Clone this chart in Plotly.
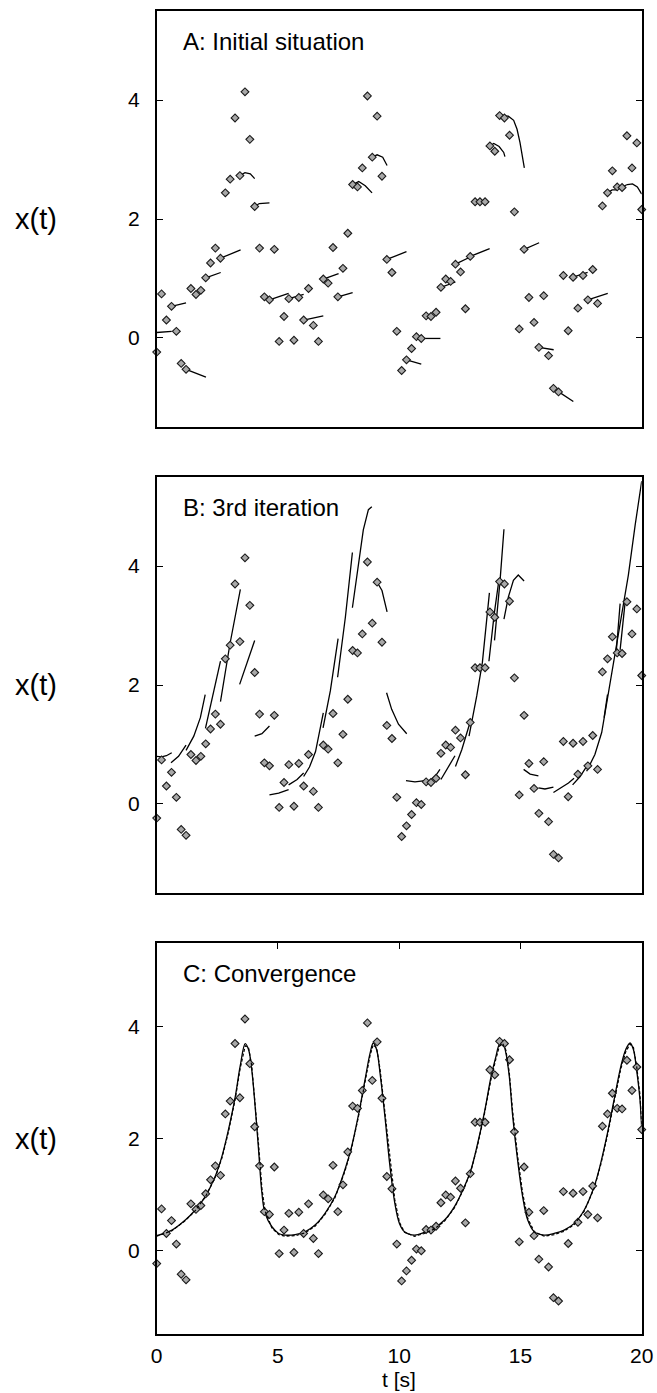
import plotly.graph_objects as go

# ---------------- data ----------------
t_obs = [0.00, 0.20, 0.40, 0.61, 0.81, 1.01, 1.21, 1.41, 1.62, 1.82,
         2.02, 2.22, 2.42, 2.63, 2.83, 3.03, 3.23, 3.43, 3.64, 3.84,
         4.04, 4.24, 4.44, 4.65, 4.85, 5.05, 5.25, 5.45, 5.66, 5.86,
         6.06, 6.26, 6.46, 6.67, 6.87, 7.07, 7.27, 7.47, 7.68, 7.88,
         8.08, 8.28, 8.48, 8.69, 8.89, 9.09, 9.29, 9.49, 9.70, 9.90,
         10.10, 10.30, 10.51, 10.71, 10.91, 11.11, 11.31, 11.52, 11.72, 11.92,
         12.12, 12.32, 12.53, 12.73, 12.93, 13.13, 13.33, 13.54, 13.74, 13.94,
         14.14, 14.34, 14.55, 14.75, 14.95, 15.15, 15.35, 15.56, 15.76, 15.96,
         16.16, 16.36, 16.57, 16.77, 16.97, 17.17, 17.37, 17.58, 17.78, 17.98,
         18.18, 18.38, 18.59, 18.79, 18.99, 19.19, 19.39, 19.60, 19.80, 20.00]
x_obs = [-0.24, 0.74, 0.30, 0.53, 0.11, -0.43, -0.53, 0.83, 0.73, 0.80,
         1.01, 1.26, 1.51, 1.34, 2.44, 2.67, 3.70, 2.73, 4.14, 3.34,
         2.21, 1.51, 0.69, 0.64, 1.49, -0.06, 0.36, 0.66, -0.04, 0.68,
         0.30, 0.83, 0.21, -0.06, 0.99, 0.92, 1.52, 0.69, 1.17, 1.76,
         2.58, 2.54, 2.86, 4.07, 3.04, 3.73, 2.72, 1.32, 1.10, 0.11,
         -0.55, -0.37, -0.18, 0.02, -0.01, 0.37, 0.36, 0.43, 0.85, 0.99,
         0.95, 1.24, 1.11, 0.49, 1.37, 2.29, 2.29, 2.29, 3.23, 3.14,
         3.74, 3.70, 3.41, 2.12, 0.15, 1.49, 0.68, 0.26, -0.16, 0.71,
         -0.30, -0.85, -0.91, 1.05, 0.12, 1.02, 0.50, 1.05, 0.64, 1.15,
         0.58, 2.22, 2.44, 2.81, 2.54, 2.53, 3.40, 2.86, 3.28, 2.16]

# Panel A: initial trajectory pieces
seg_a_t = [[0.0, 0.62], [0.61, 0.9, 1.21], [1.21, 1.6, 2.03], [2.02, 2.33, 2.64],
           [2.63, 3.04, 3.46], [3.43, 3.64, 3.86, 4.04], [4.04, 4.23, 4.65],
           [4.65, 5.05, 5.44], [5.45, 5.75, 6.06], [6.06, 6.46, 6.87],
           [6.87, 7.18, 7.5], [7.47, 7.78, 8.08], [8.08, 8.33, 8.6, 8.88],
           [8.89, 9.09, 9.32, 9.5], [9.49, 9.9, 10.3], [10.3, 10.6, 10.91],
           [10.91, 11.3, 11.7], [11.72, 12.02, 12.32], [12.32, 12.62, 12.93],
           [12.93, 13.33, 13.73], [13.74, 13.9, 14.12, 14.31, 14.36],
           [14.14, 14.5, 14.72, 14.86, 14.98, 15.08, 15.16],
           [15.15, 15.46, 15.77], [15.76, 16.06, 16.37], [16.36, 16.75, 17.18],
           [17.17, 17.47, 17.77], [17.78, 18.19, 18.6], [18.59, 18.78, 19.0],
           [19.19, 19.41, 19.62, 19.82, 20.0]]
seg_a_x = [[0.09, 0.11], [0.53, 0.56, 0.59], [-0.53, -0.59, -0.66], [1.01, 1.06, 1.10],
           [1.34, 1.41, 1.48], [2.73, 2.78, 2.76, 2.68], [2.21, 2.26, 2.27],
           [0.64, 0.70, 0.75], [0.66, 0.70, 0.73], [0.30, 0.34, 0.37],
           [0.99, 1.04, 1.08], [0.69, 0.73, 0.76], [2.58, 2.63, 2.56, 2.44],
           [3.04, 3.08, 3.04, 2.90], [1.32, 1.39, 1.45], [-0.37, -0.41, -0.44],
           [-0.01, -0.01, -0.01], [0.85, 0.90, 0.94], [1.24, 1.30, 1.36],
           [1.37, 1.44, 1.50], [3.23, 3.27, 3.22, 3.12, 3.05],
           [3.74, 3.73, 3.66, 3.51, 3.29, 3.06, 2.86],
           [1.49, 1.55, 1.60], [-0.16, -0.18, -0.20], [-0.85, -0.95, -1.07],
           [1.02, 1.06, 1.10], [0.64, 0.70, 0.75], [2.44, 2.49, 2.49],
           [2.54, 2.58, 2.59, 2.54, 2.42]]

# Panel B: 3rd iteration pieces
seg_b_t = [[0.0, 0.2, 0.4, 0.62], [0.59, 0.9, 1.21], [1.21, 1.53, 1.8, 2.0],
           [2.01, 2.31, 2.63], [2.63, 3.02, 3.45], [3.42, 3.73, 4.04],
           [4.04, 4.34, 4.65], [4.65, 5.03, 5.44], [5.44, 5.79, 6.06],
           [6.06, 6.3, 6.55, 6.87], [6.86, 7.16, 7.48], [7.46, 7.78, 8.07],
           [8.07, 8.32, 8.52, 8.73, 8.87], [9.06, 9.29, 9.5],
           [9.48, 9.69, 9.97, 10.31], [10.28, 10.65, 11.07], [11.24, 11.48, 11.68],
           [11.72, 12.03, 12.3], [12.32, 12.58, 12.92], [12.88, 13.2, 13.43, 13.72],
           [13.7, 13.92, 14.12], [13.93, 14.16, 14.32],
           [14.32, 14.5, 14.71, 14.91, 15.15], [15.13, 15.4, 15.74],
           [15.74, 16.01, 16.36], [16.36, 16.7, 16.98, 17.21], [17.15, 17.46, 17.73],
           [17.73, 18.07, 18.35, 18.63, 18.9, 19.18, 19.45, 19.73, 20.0],
           [18.45, 18.59], [18.94, 19.11], [19.11, 19.31]]
seg_b_x = [[0.80, 0.79, 0.81, 0.86], [0.69, 0.80, 0.99], [0.90, 1.14, 1.45, 1.84],
           [1.27, 1.80, 2.40], [1.72, 2.69, 3.61], [2.01, 2.38, 2.75],
           [1.14, 1.18, 1.31], [0.15, 0.18, 0.24], [0.32, 0.41, 0.52],
           [0.46, 0.62, 0.88, 1.53], [1.28, 1.90, 2.78], [2.13, 3.14, 4.23],
           [3.30, 3.99, 4.61, 4.95, 5.00], [3.75, 3.59, 3.23],
           [1.87, 1.59, 1.34, 1.18], [0.39, 0.37, 0.39], [0.39, 0.46, 0.58],
           [0.41, 0.63, 0.81], [0.63, 0.91, 1.37], [1.14, 1.82, 2.38, 3.55],
           [2.40, 3.20, 3.79], [2.75, 3.76, 4.62],
           [3.11, 3.48, 3.76, 3.85, 3.75], [0.58, 0.50, 0.47],
           [0.27, 0.25, 0.28], [0.19, 0.27, 0.35, 0.43], [0.32, 0.46, 0.63],
           [0.55, 0.83, 1.20, 1.87, 2.49, 3.17, 3.85, 4.69, 5.43],
           [1.45, 1.84], [2.51, 3.37], [2.59, 3.37]]

# Panel C: converged trajectory (solid) and true trajectory (dashed)
t_fit = [0.0, 0.63, 1.18, 1.59, 2.0, 2.41, 2.69, 2.96, 3.24, 3.44, 3.65, 3.79, 3.92,
         4.06, 4.2, 4.34, 4.47, 4.75, 5.03, 5.3, 5.71, 6.12, 6.53, 6.94, 7.35, 7.76,
         8.04, 8.31, 8.59, 8.8, 8.93, 9.07, 9.21, 9.41, 9.62, 9.82, 10.01, 10.22,
         10.63, 11.04, 11.45, 11.87, 12.28, 12.69, 12.96, 13.24, 13.51, 13.79, 13.99,
         14.13, 14.27, 14.4, 14.54, 14.68, 14.88, 15.09, 15.3, 15.57, 15.98, 16.39,
         16.8, 17.22, 17.63, 18.04, 18.31, 18.59, 18.86, 19.14, 19.34, 19.52, 19.66,
         19.79, 19.93, 20.0]
x_fit = [0.26, 0.36, 0.54, 0.72, 0.96, 1.32, 1.68, 2.16, 2.75, 3.29, 3.70, 3.59, 3.23,
         2.57, 1.80, 1.02, 0.66, 0.42, 0.30, 0.27, 0.28, 0.33, 0.45, 0.66, 0.96, 1.44,
         1.86, 2.40, 3.05, 3.53, 3.71, 3.59, 3.17, 2.40, 1.50, 0.84, 0.48, 0.33,
         0.27, 0.32, 0.40, 0.54, 0.78, 1.14, 1.44, 1.92, 2.46, 3.11, 3.47,
         3.68, 3.71, 3.53, 3.11, 2.40, 1.62, 0.96, 0.54, 0.33, 0.27, 0.30,
         0.36, 0.48, 0.72, 1.14, 1.56, 2.10, 2.69, 3.29, 3.59, 3.71, 3.59,
         3.23, 2.69, 2.16]
x_true = [0.25, 0.35, 0.53, 0.71, 0.95, 1.30, 1.65, 2.12, 2.71, 3.25, 3.66, 3.62, 3.30,
          2.66, 1.90, 1.10, 0.70, 0.40, 0.28, 0.25, 0.26, 0.31, 0.43, 0.64, 0.94, 1.41,
          1.83, 2.37, 3.01, 3.49, 3.68, 3.62, 3.24, 2.48, 1.58, 0.90, 0.50, 0.32,
          0.25, 0.30, 0.38, 0.52, 0.76, 1.12, 1.42, 1.89, 2.43, 3.07, 3.43,
          3.65, 3.70, 3.58, 3.18, 2.48, 1.70, 1.02, 0.57, 0.33, 0.25, 0.28,
          0.34, 0.46, 0.70, 1.11, 1.53, 2.06, 2.65, 3.25, 3.55, 3.69, 3.63,
          3.30, 2.78, 2.25]

panel_titles = ["A: Initial situation", "B: 3rd iteration", "C: Convergence"]
y_ticks = [0, 2, 4]
x_ticks = [0, 5, 10, 15, 20]

# ---------------- figure ----------------
FONT = "Liberation Sans, Arial, Helvetica, sans-serif"
W, H = 657, 1393
x0, x1 = 156.7, 641.7
panels_px = [(11, 427), (477, 893), (943, 1334)]


def dom_y(top, bot):
    return [1 - bot / H, 1 - top / H]


def joined(seg_t, seg_x):
    xs, ys = [], []
    for tt, xx in zip(seg_t, seg_x):
        xs += list(tt) + [None]
        ys += list(xx) + [None]
    return xs, ys


fig = go.Figure()
line_style = dict(color="black", width=1.3)
marker_style = dict(symbol="diamond", size=6, color="#a8a8a8",
                    line=dict(color="#1a1a1a", width=1.1))

sa_t, sa_x = joined(seg_a_t, seg_a_x)
sb_t, sb_x = joined(seg_b_t, seg_b_x)

fig.add_trace(go.Scatter(x=sa_t, y=sa_x, mode="lines", line=line_style,
                         connectgaps=False, xaxis="x", yaxis="y"))
fig.add_trace(go.Scatter(x=sb_t, y=sb_x, mode="lines", line=line_style,
                         connectgaps=False, xaxis="x2", yaxis="y2"))
fig.add_trace(go.Scatter(x=t_fit, y=x_true, mode="lines",
                         line=dict(color="black", width=1.2, dash="3px,2px"),
                         xaxis="x4", yaxis="y3"))
fig.add_trace(go.Scatter(x=t_fit, y=x_fit, mode="lines", line=line_style,
                         line_shape="spline", xaxis="x3", yaxis="y3"))

for xa, ya in (("x", "y"), ("x2", "y2"), ("x3", "y3")):
    fig.add_trace(go.Scatter(x=t_obs, y=x_obs, mode="markers", marker=marker_style,
                             xaxis=xa, yaxis=ya, cliponaxis=False))

xdom = [x0 / W, x1 / W]
common_x = dict(domain=xdom, range=[0, 20], showline=True, linecolor="black",
                linewidth=1.6, mirror=True, showgrid=False, zeroline=False,
                automargin=False)
common_y = dict(range=[-1.5, 5.5], showline=True, linecolor="black", linewidth=1.6,
                mirror="ticks", ticks="inside", ticklen=6, tickwidth=1.4,
                tickcolor="black", tickvals=y_ticks, showgrid=False, zeroline=False,
                tickfont=dict(family=FONT, size=21, color="black"),
                ticklabelstandoff=11, automargin=False)

layout = dict(
    width=W, height=H, margin=dict(l=0, r=0, t=0, b=0, autoexpand=False),
    paper_bgcolor="white", plot_bgcolor="white", showlegend=False,
    xaxis=dict(common_x, anchor="y", ticks="", showticklabels=False),
    xaxis2=dict(common_x, anchor="y2", ticks="", showticklabels=False),
    xaxis3=dict(common_x, anchor="y3", ticks="", tickvals=x_ticks,
                showticklabels=True, ticklabelstandoff=2,
                tickfont=dict(family=FONT, size=21, color="black")),
    xaxis4=dict(range=[0, 20], overlaying="x3", side="top", anchor="y3",
                ticks="inside", ticklen=6, tickwidth=1.4, tickcolor="black",
                tickvals=[5, 10, 15], showticklabels=False, showline=False,
                showgrid=False, zeroline=False, automargin=False),
    yaxis=dict(common_y, anchor="x", domain=dom_y(*panels_px[0])),
    yaxis2=dict(common_y, anchor="x2", domain=dom_y(*panels_px[1])),
    yaxis3=dict(common_y, anchor="x3", domain=dom_y(*panels_px[2])),
)
fig.update_layout(**layout)

annots = []
for i, (title, (top, bot)) in enumerate(zip(panel_titles, panels_px)):
    suffix = "" if i == 0 else str(i + 1)
    hgt = bot - top
    annots.append(dict(text=title, xref=f"x{suffix} domain", yref=f"y{suffix} domain",
                       x=0.05, y=1 - 30 / hgt, xanchor="left", yanchor="middle",
                       showarrow=False, font=dict(family=FONT, size=24, color="black")))
    annots.append(dict(text="x(t)", xref="paper", yref=f"y{suffix} domain",
                       x=36 / W, y=0.5, xanchor="center", yanchor="middle",
                       showarrow=False, font=dict(family=FONT, size=29, color="black")))
annots.append(dict(text="t [s]", xref="x3 domain", yref="paper",
                   x=0.5, y=1 - 1379 / H, xanchor="center", yanchor="middle",
                   showarrow=False, font=dict(family=FONT, size=21, color="black")))
fig.update_layout(annotations=annots)

fig.write_html("out.html",
               config={"displayModeBar": False, "responsive": False},
               post_script="document.body.style.margin='0';"
                           "document.body.style.overflow='hidden';")
